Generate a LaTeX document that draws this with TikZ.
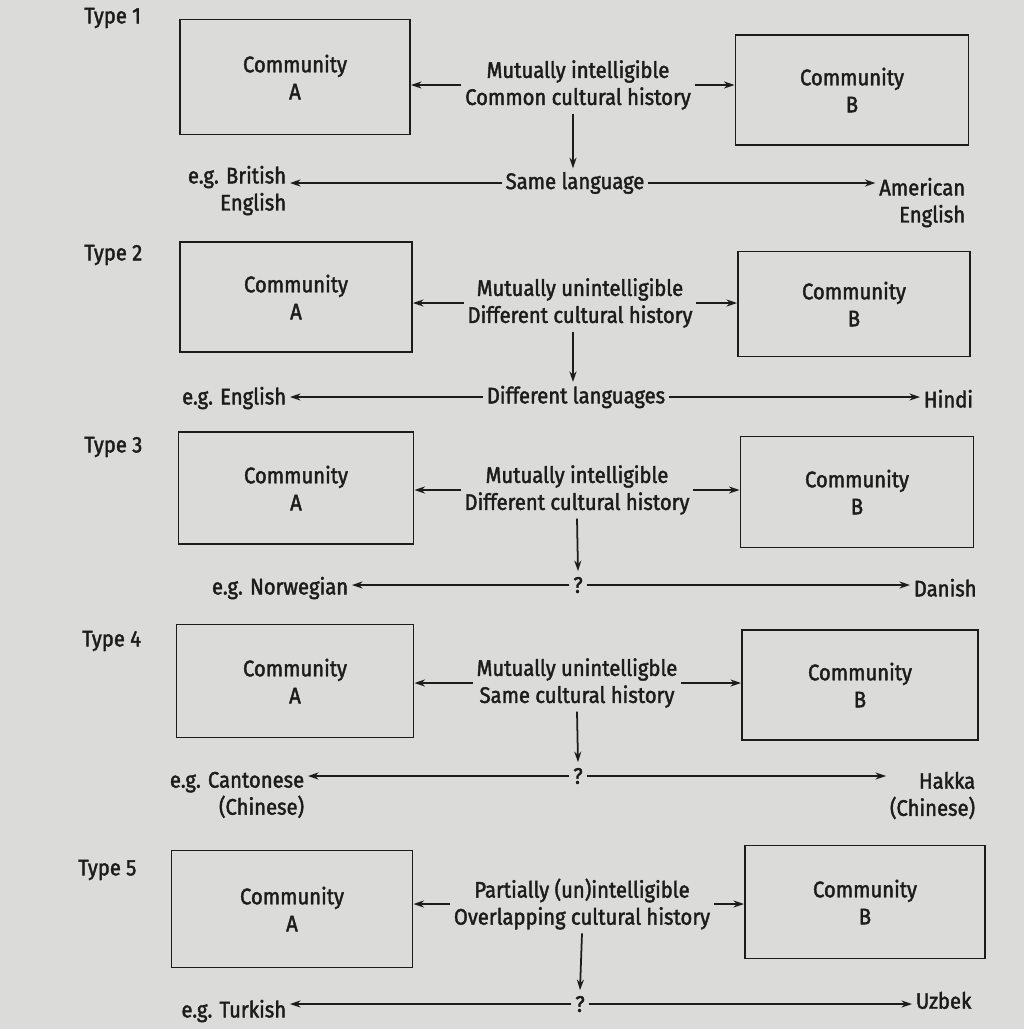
\documentclass[tikz,border=0pt]{standalone}
\usepackage{fontspec}
\setmainfont{Fira Sans}[FakeBold=1.8,FakeStretch=0.9]
\usetikzlibrary{arrows.meta}
\definecolor{paper}{RGB}{219,219,217}
\definecolor{ink}{RGB}{28,28,28}
\begin{document}
\begin{tikzpicture}[x=0.02cm,y=-0.02cm,
  every node/.style={text=ink,font=\fontsize{12.8}{15.4}\selectfont},
  community/.style={draw=ink,line width=1.1pt,inner sep=0pt,align=center},
  typelabel/.style={anchor=west},
  relation/.style={align=center,inner sep=2pt},
  outcome/.style={inner sep=2pt},
  example/.style={align=right,inner sep=2pt},
  arr/.style={draw=ink,line width=1pt,-{Stealth[length=6pt,width=4pt]}}]
\fill[paper] (0,0) rectangle (1024,1029);
\useasboundingbox (0,0) rectangle (1024,1029);

% ---------- Type 1 ----------
\node[typelabel] (t1) at (78,18) {Type 1};
\node[community,minimum width=230*0.02cm,minimum height=115*0.02cm] (a1) at (295,77) {Community\\A};
\node[community,minimum width=233*0.02cm,minimum height=110*0.02cm] (b1) at (852,90) {Community\\B};
\node[relation] (m1) at (578,85) {Mutually intelligible\\Common cultural history};
\node[outcome] (l1) at (575,183) {Same language};
\node[example,anchor=north east] (e1) at (290,162) {e.g. British\\English};
\node[example,anchor=north east] (f1) at (969,174) {American\\English};
\draw[arr] (m1.west) -- (m1.west -| a1.east);
\draw[arr] (m1.east) -- (m1.east -| b1.west);
\draw[arr] ([xshift=-5*0.02cm]m1.south) -- ([xshift=-2*0.02cm]l1.north);
\draw[arr] (l1.west) -- (l1.west -| e1.east);
\draw[arr] (l1.east) -- (l1.east -| f1.west);

% ---------- Type 2 ----------
\node[typelabel] (t2) at (78,255) {Type 2};
\node[community,minimum width=232*0.02cm,minimum height=110*0.02cm] (a2) at (296,297) {Community\\A};
\node[community,minimum width=232*0.02cm,minimum height=105*0.02cm] (b2) at (854,304) {Community\\B};
\node[relation] (m2) at (580,303) {Mutually unintelligible\\Different cultural history};
\node[outcome] (l2) at (576,397) {Different languages};
\node[example,anchor=north east] (e2) at (290,383) {e.g. English};
\node[example,anchor=north west] (f2) at (920,386) {Hindi};
\draw[arr] (m2.west) -- (m2.west -| a2.east);
\draw[arr] (m2.east) -- (m2.east -| b2.west);
\draw[arr] ([xshift=-7*0.02cm]m2.south) -- ([xshift=-3*0.02cm]l2.north);
\draw[arr] (l2.west) -- (l2.west -| e2.east);
\draw[arr] (l2.east) -- (l2.east -| f2.west);

% ---------- Type 3 ----------
\node[typelabel] (t3) at (78,447) {Type 3};
\node[community,minimum width=235*0.02cm,minimum height=112*0.02cm] (a3) at (296,488) {Community\\A};
\node[community,minimum width=233*0.02cm,minimum height=111*0.02cm] (b3) at (857,492) {Community\\B};
\node[relation] (m3) at (577,490) {Mutually intelligible\\Different cultural history};
\node[outcome] (l3) at (578,585) {?};
\node[example,anchor=north east] (e3) at (352,573) {e.g. Norwegian};
\node[example,anchor=north west] (f3) at (910,575) {Danish};
\draw[arr] (m3.west) -- (m3.west -| a3.east);
\draw[arr] (m3.east) -- (m3.east -| b3.west);
\draw[arr] (m3.south) -- ([yshift=2*0.02cm]l3.north);
\draw[arr] (l3.west) -- (l3.west -| e3.east);
\draw[arr] (l3.east) -- (l3.east -| f3.west);

% ---------- Type 4 ----------
\node[typelabel] (t4) at (76,641) {Type 4};
\node[community,minimum width=237*0.02cm,minimum height=113*0.02cm] (a4) at (295,681) {Community\\A};
\node[community,minimum width=236*0.02cm,minimum height=110*0.02cm] (b4) at (860,685) {Community\\B};
\node[relation] (m4) at (577,683) {Mutually unintelligble\\Same cultural history};
\node[outcome] (l4) at (578,776) {?};
\node[example,anchor=north east] (e4) at (308,768) {e.g. Cantonese\\(Chinese)};
\node[example,anchor=north east] (f4) at (979,768) {Hakka\\(Chinese)};
\draw[arr] (m4.west) -- (m4.west -| a4.east);
\draw[arr] (m4.east) -- (m4.east -| b4.west);
\draw[arr] (m4.south) -- ([yshift=2*0.02cm]l4.north);
\draw[arr] (l4.west) -- (l4.west -| e4.east);
\draw[arr] (l4.east) -- (l4.east -| f4.west);

% ---------- Type 5 ----------
\node[typelabel] (t5) at (72,870) {Type 5};
\node[community,minimum width=241*0.02cm,minimum height=117*0.02cm] (a5) at (292,909) {Community\\A};
\node[community,minimum width=240*0.02cm,minimum height=113*0.02cm] (b5) at (865,902) {Community\\B};
\node[relation] (m5) at (582,904) {Partially (un)intelligible\\Overlapping cultural history};
\node[outcome] (l5) at (580,1004) {?};
\node[example,anchor=north east] (e5) at (290,996) {e.g. Turkish};
\node[example,anchor=north west] (f5) at (912,988) {Uzbek};
\draw[arr] (m5.west) -- (m5.west -| a5.east);
\draw[arr] (m5.east) -- (m5.east -| b5.west);
\draw[arr] (m5.south) -- ([yshift=2*0.02cm]l5.north);
\draw[arr] (l5.west) -- (l5.west -| e5.east);
\draw[arr] (l5.east) -- (l5.east -| f5.west);
\end{tikzpicture}
\end{document}
